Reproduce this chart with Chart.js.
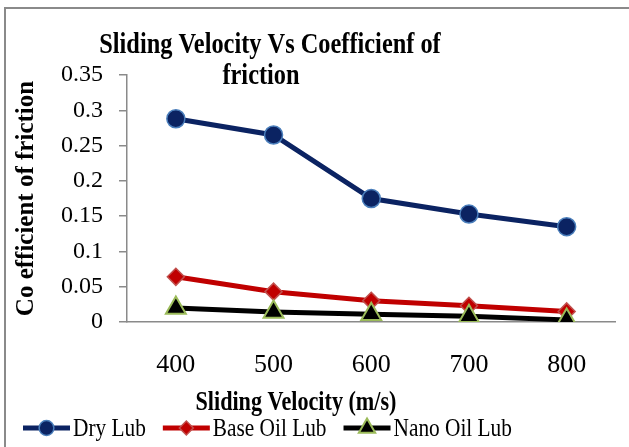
<!DOCTYPE html>
<html>
<head>
<meta charset="utf-8">
<script src="https://cdn.jsdelivr.net/npm/chart.js@4.4.1/dist/chart.umd.min.js"></script>
<style>
html, body { margin: 0; padding: 0; background: #fff; overflow: hidden; }
#frame { position: absolute; left: 4px; top: 7px; width: 700px; height: 500px;
         border-left: 2px solid #8a8a8a; border-top: 2px solid #8a8a8a; }
#wrap { position: absolute; left: 0; top: 0; width: 629px; height: 447px; }
</style>
</head>
<body>
<div id="frame"></div>
<div id="wrap"><canvas id="frictionChart" width="629" height="447"></canvas></div>
<script>
// data
var velocities = ['400', '500', '600', '700', '800'];
var dryLub = [0.288, 0.265, 0.175, 0.153, 0.135];
var baseOilLub = [0.064, 0.043, 0.030, 0.023, 0.015];
var nanoOilLub = [0.020, 0.014, 0.011, 0.008, 0.003];
var seriesNames = ['Dry Lub', 'Base Oil Lub', 'Nano Oil Lub'];
var yMin = 0, yMax = 0.35, yStep = 0.05;
var titleLines = ['Sliding Velocity Vs Coefficienf of', 'friction'];
var xTitle = 'Sliding Velocity (m/s)';
var yTitle = 'Co efficient of friction';

var serif = '"Liberation Serif", "Times New Roman", serif';

// text in the original is a bit narrow, so squeeze it horizontally
function narrowText(ctx, text, cx, cy, sx) {
    ctx.save();
    ctx.translate(cx, cy);
    ctx.scale(sx, 1);
    ctx.fillText(text, 0, 0);
    ctx.restore();
}

// title, x axis title and the line+marker legend, drawn like the Excel original
var chartText = {
    id: 'chartText',
    afterDraw: function(chart) {
        var ctx = chart.ctx;
        ctx.save();
        ctx.fillStyle = '#000';
        ctx.textAlign = 'center';
        ctx.textBaseline = 'alphabetic';
        ctx.font = 'bold 29px ' + serif;
        narrowText(ctx, titleLines[0], 270, 53, 0.84);
        narrowText(ctx, titleLines[1], 261, 84, 0.84);
        ctx.font = 'bold 27px ' + serif;
        narrowText(ctx, xTitle, 296, 410, 0.82);

        // legend
        var x = 23, y = 428, sx = 0.82;
        ctx.font = '26px ' + serif;
        ctx.textAlign = 'left';
        ctx.textBaseline = 'middle';
        chart.data.datasets.forEach(function(ds) {
            ctx.strokeStyle = ds.borderColor;
            ctx.lineWidth = 5;
            ctx.beginPath();
            ctx.moveTo(x, y);
            ctx.lineTo(x + 47, y);
            ctx.stroke();
            ctx.fillStyle = ds.pointBackgroundColor;
            ctx.strokeStyle = ds.pointBorderColor;
            ctx.lineWidth = ds.pointBorderWidth;
            Chart.helpers.drawPoint(ctx, {
                pointStyle: ds.pointStyle,
                radius: ds.pointRadius * 0.82,
                rotation: 0,
                borderWidth: ds.pointBorderWidth
            }, x + 23.5, y);
            ctx.fillStyle = '#000';
            narrowText(ctx, ds.label, x + 50, y + 1, sx);
            x += 50 + ctx.measureText(ds.label).width * sx + 17;
        });
        ctx.restore();
    }
};

var ctxFriction = document.getElementById('frictionChart').getContext('2d');
new Chart(ctxFriction, {
    type: 'line',
    data: {
        labels: velocities,
        datasets: [{
            label: seriesNames[0],
            data: dryLub,
            borderColor: '#0b2362',
            borderWidth: 5,
            pointStyle: 'circle',
            pointRadius: 9,
            pointBackgroundColor: '#0b2362',
            pointBorderColor: '#4a7ebb',
            pointBorderWidth: 1.5,
            order: 2
        }, {
            label: seriesNames[1],
            data: baseOilLub,
            borderColor: '#c00000',
            borderWidth: 5,
            pointStyle: 'rectRot',
            pointRadius: 8.5,
            pointBackgroundColor: '#c00000',
            pointBorderColor: '#c0504d',
            pointBorderWidth: 1.5,
            order: 1
        }, {
            label: seriesNames[2],
            data: nanoOilLub,
            borderColor: '#000000',
            borderWidth: 5,
            pointStyle: 'triangle',
            pointRadius: 11.5,
            pointBackgroundColor: '#000000',
            pointBorderColor: '#9bbb59',
            pointBorderWidth: 2,
            order: 0
        }]
    },
    options: {
        responsive: false,
        animation: false,
        layout: { padding: { left: 0, top: 75, right: 13, bottom: 0 } },
        plugins: {
            legend: { display: false },
            tooltip: { enabled: false },
            title: { display: false }
        },
        scales: {
            x: {
                offset: true,
                afterFit: function(scale) { scale.height = 125; },
                grid: { display: false, offset: true },
                border: { display: true, color: '#8a8a8a', width: 1.5 },
                ticks: {
                    color: '#000',
                    font: { family: serif, size: 26 },
                    padding: 20,
                    maxRotation: 0
                }
            },
            y: {
                min: yMin,
                max: yMax,
                afterFit: function(scale) { scale.width = 127; },
                grid: {
                    display: true,
                    drawOnChartArea: false,
                    drawTicks: true,
                    tickLength: 8,
                    color: '#8a8a8a',
                    lineWidth: 1.5
                },
                border: { display: true, color: '#8a8a8a', width: 1.5 },
                ticks: {
                    stepSize: yStep,
                    color: '#000',
                    font: { family: serif, size: 24 },
                    padding: 16,
                    callback: function(v) { return String(+v.toFixed(2)); }
                },
                title: {
                    display: true,
                    text: yTitle,
                    color: '#000',
                    font: { family: serif, size: 25, weight: 'bold' },
                    padding: { top: 12, bottom: 0 }
                }
            }
        }
    },
    plugins: [chartText]
});
</script>
</body>
</html>
